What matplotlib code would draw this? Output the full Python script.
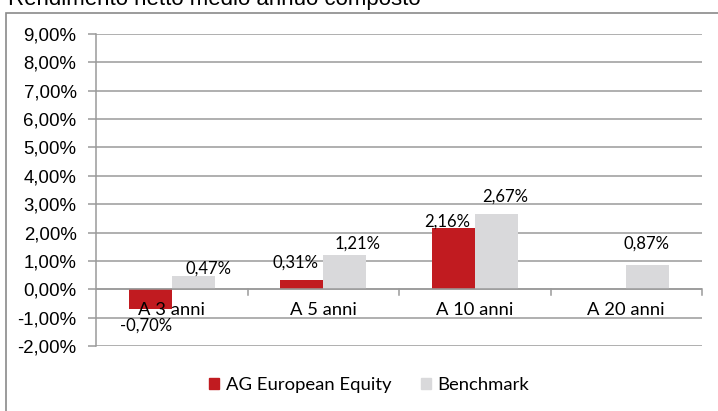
import matplotlib
matplotlib.use("Agg")
import matplotlib.pyplot as plt
from matplotlib.patches import Rectangle, Patch
import numpy as np

categories = ["A 3 anni", "A 5 anni", "A 10 anni", "A 20 anni"]
fund_name = "AG European Equity"
bench_name = "Benchmark"
fund_values = [-0.70, 0.31, 2.16, np.nan]
bench_values = [0.47, 1.21, 2.67, 0.87]
yticks = [-2, -1, 0, 1, 2, 3, 4, 5, 6, 7, 8, 9]
title = "Rendimento netto medio annuo composto"

# label placement offsets (pixels) of label centre relative to bar end
fund_label_off = [(-4, -16), (-6, 18), (-6, 6), (0, 0)]
bench_label_off = [(15, 7), (13, 11), (9, 17), (-1, 21)]

RED = "#C11B20"
GREY = "#D9D9DB"
GRID = "#9a9a9a"
LBL_FONT = ["Lato", "DejaVu Sans"]
TICK_FONT = ["Liberation Sans", "DejaVu Sans"]

def fmt(v):
    return f"{v:.2f}".replace(".", ",") + "%"

fig = plt.figure(figsize=(7.18, 4.11), dpi=100)
W, H = 718, 411
ax = fig.add_axes([96 / W, (H - 346) / H, 606 / W, 312 / H])

x = np.arange(len(categories))
bw = 0.285
ax.bar(x - bw / 2, fund_values, bw, color=RED, zorder=3, label=fund_name)
ax.bar(x + bw / 2, bench_values, bw, color=GREY, zorder=3, label=bench_name)

ax.set_xlim(-0.5, len(categories) - 0.5)
ax.set_ylim(-2, 9)
ax.set_yticks(yticks)
ax.set_yticklabels([fmt(t) for t in yticks], family=TICK_FONT, fontsize=13.4)
ax.yaxis.grid(True, color=GRID, lw=1.1, zorder=0)
ax.tick_params(axis="y", length=6, width=1.1, color=GRID, pad=8)
for s in ["top", "right", "bottom"]:
    ax.spines[s].set_visible(False)
ax.spines["left"].set_color(GRID)
ax.spines["left"].set_linewidth(1.1)

# zero axis with category boundary ticks
ax.axhline(0, color=GRID, lw=1.1, zorder=4)
ax.set_xticks([])
bounds = np.arange(len(categories) + 1) - 0.5
for b in bounds[1:]:
    ax.plot([b, b], [0, -0.2], color=GRID, lw=1.1, zorder=4, clip_on=False)

for i, c in enumerate(categories):
    ax.annotate(c, (x[i], 0), xytext=(0, -21), textcoords="offset pixels",
                ha="center", va="center", fontsize=13.2, family=LBL_FONT, zorder=6)

for i, v in enumerate(fund_values):
    if np.isnan(v):
        continue
    dx, dy = fund_label_off[i]
    ax.annotate(fmt(v), (x[i] - bw / 2, v), xytext=(dx, dy), textcoords="offset pixels",
                ha="center", va="center", fontsize=12, family=LBL_FONT, zorder=6)
for i, v in enumerate(bench_values):
    dx, dy = bench_label_off[i]
    ax.annotate(fmt(v), (x[i] + bw / 2, v), xytext=(dx, dy), textcoords="offset pixels",
                ha="center", va="center", fontsize=12, family=LBL_FONT, zorder=6)

handles = [Patch(color=RED, label=fund_name), Patch(color=GREY, label=bench_name)]
fig.legend(handles=handles, loc="center", bbox_to_anchor=(369 / W, (H - 385) / H), ncol=2,
           frameon=False, prop={"family": LBL_FONT, "size": 13.3},
           handlelength=0.55, handleheight=0.55, handletextpad=0.35, columnspacing=1.6,
           borderpad=0, borderaxespad=0)

# outer frame
fig.patches.append(Rectangle((6 / W, -0.1), 1.2, (H - 13) / H + 0.1, transform=fig.transFigure,
                             fill=False, edgecolor="#8a8a8a", lw=1.2))
fig.text(8 / W, (H - 5) / H, title, family=TICK_FONT, fontsize=16, ha="left", va="baseline")

fig.savefig("out.png", dpi=100)
